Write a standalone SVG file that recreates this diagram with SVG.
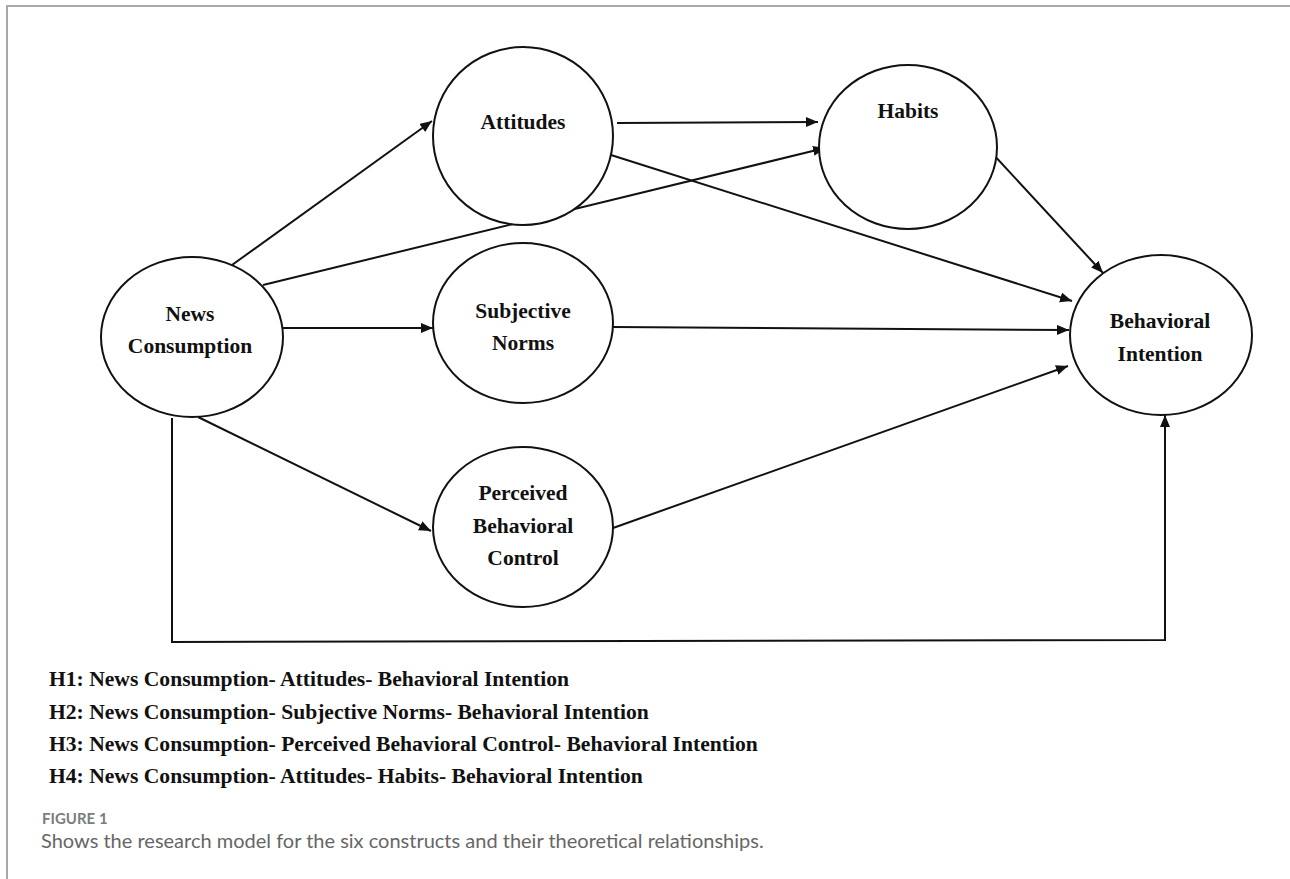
<svg xmlns="http://www.w3.org/2000/svg" width="1290" height="879" viewBox="0 0 1290 879">
<defs>
<style>
.node ellipse{fill:#fff;stroke:#111;stroke-width:2}
.node text{font-family:"Liberation Serif","Times New Roman",serif;font-weight:bold;font-size:21.5px;fill:#111;text-anchor:middle}
.edge{fill:none;stroke:#111;stroke-width:2}
.hyp{font-family:"Liberation Serif","Times New Roman",serif;font-weight:bold;font-size:21.6px;fill:#111}
.figlabel{font-family:Lato,"Noto Sans",sans-serif;font-size:15px;font-weight:bold;fill:#7c7c7c}
.figcap{font-family:Lato,"Noto Sans",sans-serif;font-size:20px;fill:#666}
</style>
<marker id="arr" markerUnits="userSpaceOnUse" markerWidth="13" markerHeight="11" refX="12" refY="5" orient="auto">
<path d="M0,0 L12,5 L0,10 z" fill="#111"/>
</marker>
</defs>
<rect width="1290" height="879" fill="#fff"/>
<path d="M7,879 V6 H1290" fill="none" stroke="#a8a8a8" stroke-width="2"/>

<g id="connectors">
<line class="edge" x1="232" y1="265" x2="432" y2="121" marker-end="url(#arr)"/>
<line class="edge" x1="263" y1="285" x2="825" y2="148" marker-end="url(#arr)"/>
<line class="edge" x1="283" y1="328" x2="433" y2="328" marker-end="url(#arr)"/>
<line class="edge" x1="198" y1="417" x2="431" y2="531" marker-end="url(#arr)"/>
<polyline class="edge" points="172,418 172,642 1165,640 1165,415" marker-end="url(#arr)"/>
<line class="edge" x1="617" y1="123" x2="818" y2="122" marker-end="url(#arr)"/>
<line class="edge" x1="611" y1="155" x2="1072" y2="301" marker-end="url(#arr)"/>
<line class="edge" x1="992" y1="153" x2="1103" y2="273" marker-end="url(#arr)"/>
<line class="edge" x1="613" y1="327" x2="1069" y2="330" marker-end="url(#arr)"/>
<line class="edge" x1="613" y1="528" x2="1068" y2="366" marker-end="url(#arr)"/>
</g>

<g id="news-consumption" class="node">
<ellipse cx="192" cy="337" rx="91" ry="80"/>
<text x="190" y="321">News</text>
<text x="190" y="353">Consumption</text>
</g>
<g id="attitudes" class="node">
<ellipse cx="523" cy="136" rx="90" ry="89"/>
<text x="523" y="129">Attitudes</text>
</g>
<g id="habits" class="node">
<ellipse cx="908" cy="147" rx="89" ry="82"/>
<text x="908" y="118">Habits</text>
</g>
<g id="subjective-norms" class="node">
<ellipse cx="523" cy="323" rx="90" ry="80"/>
<text x="523" y="318">Subjective</text>
<text x="523" y="350">Norms</text>
</g>
<g id="perceived-behavioral-control" class="node">
<ellipse cx="523" cy="527" rx="90" ry="80"/>
<text x="523" y="500">Perceived</text>
<text x="523" y="533">Behavioral</text>
<text x="523" y="565">Control</text>
</g>
<g id="behavioral-intention" class="node">
<ellipse cx="1161" cy="335" rx="91" ry="80"/>
<text x="1160" y="328">Behavioral</text>
<text x="1160" y="361">Intention</text>
</g>

<g id="hypotheses">
<text class="hyp" x="49" y="686">H1: News Consumption- Attitudes- Behavioral Intention</text>
<text class="hyp" x="49" y="719">H2: News Consumption- Subjective Norms- Behavioral Intention</text>
<text class="hyp" x="49" y="751">H3: News Consumption- Perceived Behavioral Control- Behavioral Intention</text>
<text class="hyp" x="49" y="783">H4: News Consumption- Attitudes- Habits- Behavioral Intention</text>
</g>
<g id="caption">
<text class="figlabel" x="42" y="824">FIGURE 1</text>
<text class="figcap" x="41" y="848">Shows the research model for the six constructs and their theoretical relationships.</text>
</g>
</svg>
